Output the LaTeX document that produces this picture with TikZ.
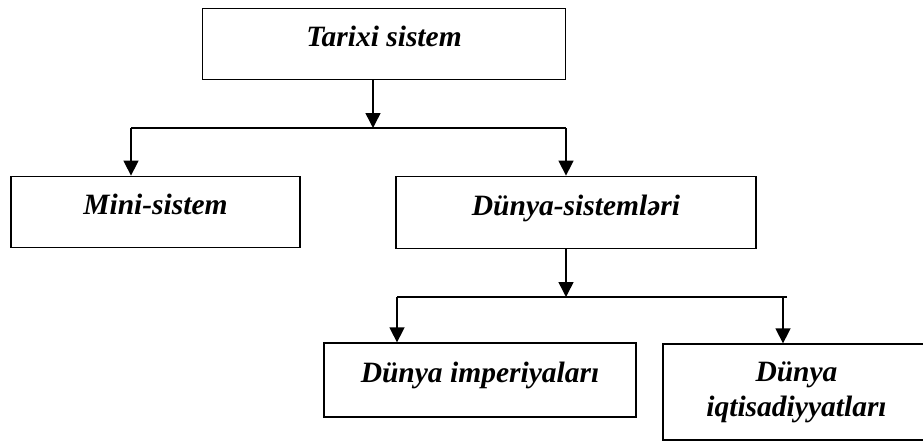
\documentclass[tikz,border=0pt]{standalone}
\usepackage{fontspec}
\setmainfont{Liberation Serif}
\usetikzlibrary{arrows.meta}
\begin{document}
\begin{tikzpicture}[x=1pt,y=-1pt,
  box/.style={draw,line width=1.8pt,rectangle,inner sep=0pt,align=center,
    font=\fontsize{29.5}{35}\selectfont\bfseries\itshape},
  oneline/.style={text height=20pt,text depth=15pt},
  conn/.style={line width=1.5pt},
  arr/.style={conn,-{Triangle[width=15pt,length=15pt]}}]
\clip (0,0) rectangle (923,442);
\fill[white] (0,0) rectangle (923,442);
\node[box,oneline,minimum width=363pt,minimum height=71pt] (tarixi) at (384,44) {Tarixi sistem};
\node[box,oneline,minimum width=289pt,minimum height=71pt] (mini) at (155.5,212) {Mini-sistem};
\node[box,oneline,minimum width=360pt,minimum height=72pt] (dsist) at (576,212.5) {Dünya-sistemləri};
\node[box,oneline,minimum width=312pt,minimum height=73.5pt] (imper) at (480,380) {Dünya imperiyaları};
\node[box,minimum width=267pt,minimum height=95.5pt] (iqtis) at (796.5,392) {Dünya\\iqtisadiyyatları};
\coordinate (j1) at (373,128);
\coordinate (l1) at (131,128);
\coordinate (r1) at (566,128);
\coordinate (j2) at (566,297);
\coordinate (l2) at (397,297);
\coordinate (r2) at (783,297);
\coordinate (e2) at (787,297);
\draw[arr] (tarixi.south -| j1) -- (j1);
\draw[conn] (r1) -- (l1);
\draw[arr] (l1) -- (l1 |- mini.north);
\draw[arr] (r1) -- (r1 |- dsist.north);
\draw[arr] (dsist.south -| j2) -- (j2);
\draw[conn] (e2) -- (l2);
\draw[arr] (l2) -- (l2 |- imper.north);
\draw[arr] (r2) -- (r2 |- iqtis.north);
\end{tikzpicture}
\end{document}
